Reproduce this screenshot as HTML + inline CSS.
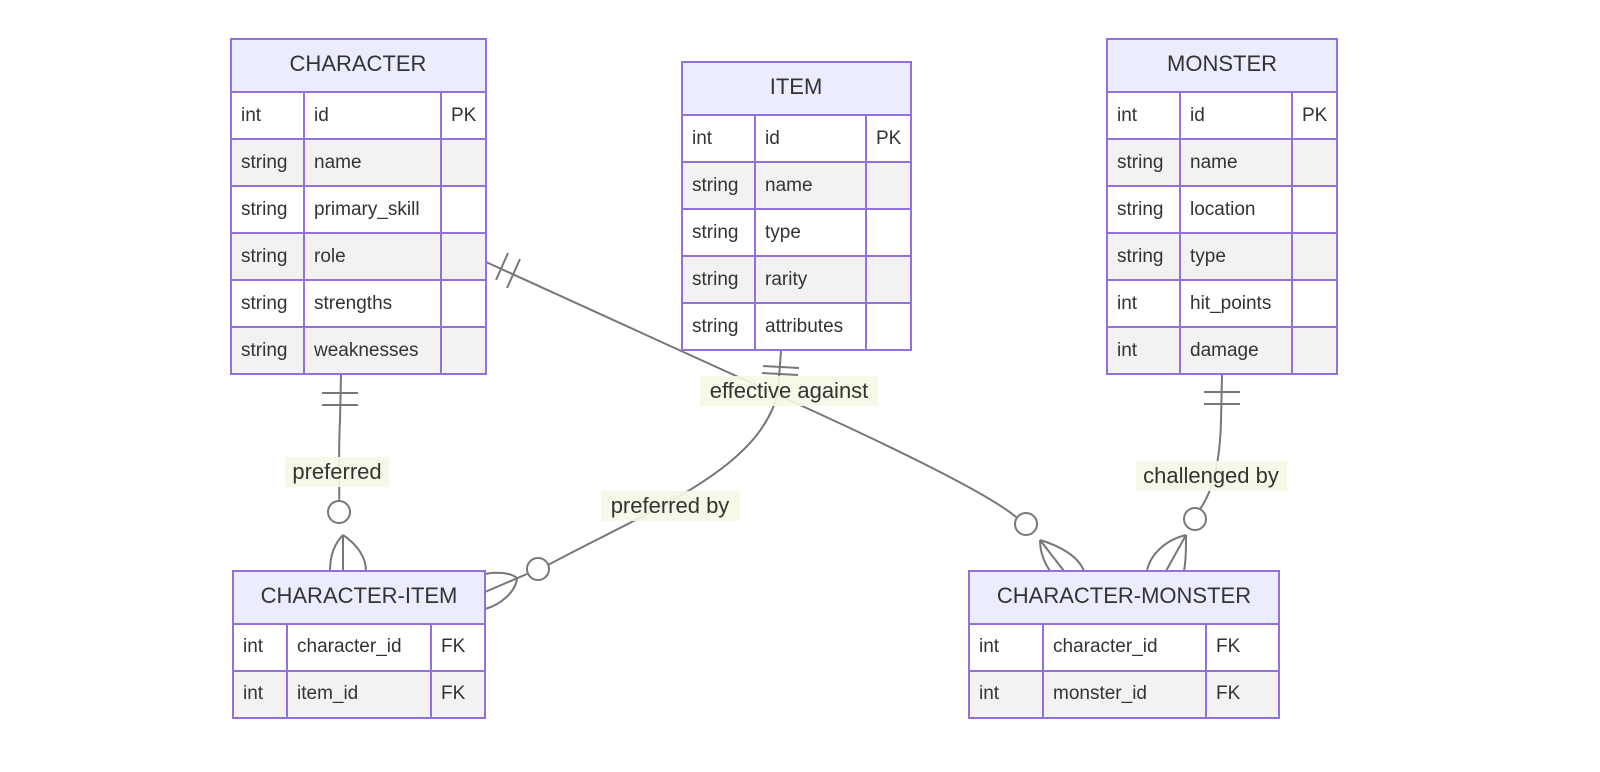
<!DOCTYPE html>
<html><head><meta charset="utf-8"><style>
html,body{margin:0;padding:0;background:#fff;}
svg{display:block;}
text{font-family:"Liberation Sans",sans-serif;fill:#333;}
.h{font-size:22px;}
.c{font-size:19px;}
.l{font-size:22px;fill:#333;}
</style></head><body>
<svg width="1600" height="772" viewBox="0 0 1600 772" xmlns="http://www.w3.org/2000/svg">
<g fill="none" stroke="#777" stroke-width="2">
<!-- edge 1 -->
<path d="M341,375 L340,420 C338,460 340,500 339,501"/>
<line x1="322" y1="393" x2="358" y2="393"/><line x1="322" y1="405" x2="358" y2="405"/>
<circle cx="339" cy="512" r="11" fill="#fff"/>
<path d="M343,535 L343,571 M343,535 C333,545 330,558 330,571 M343,535 C358,545 366,558 366,571"/>
<!-- edge 2 -->
<path d="M781,351 L778,392 C760,470 650,510 548,565"/>
<line x1="763" y1="366" x2="799" y2="368"/><line x1="762" y1="373" x2="798" y2="375"/>
<circle cx="538" cy="569" r="11" fill="#fff"/>
<path d="M527,574 L485,592 M517,578 C510,572 495,572 485,574 M517,578 C516,592 500,605 485,609"/>
<!-- edge 3 -->
<path d="M486,262 L780,396 C900,450 990,495 1016,517"/>
<line x1="496" y1="280" x2="508" y2="253"/><line x1="507" y1="288" x2="520" y2="259"/>
<circle cx="1026" cy="524" r="11" fill="#fff"/>
<path d="M1040,540 L1064,571 M1040,540 C1040,552 1044,562 1050,571 M1040,540 C1060,546 1078,556 1084,571"/>
<!-- edge 4 -->
<path d="M1222,375 L1221,420 C1220,470 1210,495 1200,509"/>
<line x1="1204" y1="392" x2="1240" y2="392"/><line x1="1204" y1="404" x2="1240" y2="404"/>
<circle cx="1195" cy="519" r="11" fill="#fff"/>
<path d="M1186,535 L1166,571 M1186,535 C1186,548 1186,560 1184,571 M1186,535 C1165,540 1150,555 1147,571"/>
</g>
<!-- labels -->
<g>
<rect x="285" y="457" width="104" height="30" fill="#f4f8e6" opacity="0.9"/>
<text class="l" x="337" y="479" text-anchor="middle">preferred</text>
<rect x="601" y="491" width="139" height="30" fill="#f4f8e6" opacity="0.9"/>
<text class="l" x="670" y="513" text-anchor="middle">preferred by</text>
<rect x="700" y="376" width="178" height="30" fill="#f4f8e6" opacity="0.9"/>
<text class="l" x="789" y="398" text-anchor="middle">effective against</text>
<rect x="1136" y="461" width="151" height="30" fill="#f4f8e6" opacity="0.9"/>
<text class="l" x="1211" y="483" text-anchor="middle">challenged by</text>
</g>
<g stroke="#9370db" stroke-width="2">
<!-- CHARACTER -->
<rect x="231" y="39" width="255" height="53" fill="#ececff"/>
<rect x="231" y="92" width="255" height="47" fill="#fff"/>
<rect x="231" y="139" width="255" height="47" fill="#f2f2f2"/>
<rect x="231" y="186" width="255" height="47" fill="#fff"/>
<rect x="231" y="233" width="255" height="47" fill="#f2f2f2"/>
<rect x="231" y="280" width="255" height="47" fill="#fff"/>
<rect x="231" y="327" width="255" height="47" fill="#f2f2f2"/>
<line x1="304" y1="92" x2="304" y2="374"/><line x1="441" y1="92" x2="441" y2="374"/>
<!-- ITEM -->
<rect x="682" y="62" width="229" height="53" fill="#ececff"/>
<rect x="682" y="115" width="229" height="47" fill="#fff"/>
<rect x="682" y="162" width="229" height="47" fill="#f2f2f2"/>
<rect x="682" y="209" width="229" height="47" fill="#fff"/>
<rect x="682" y="256" width="229" height="47" fill="#f2f2f2"/>
<rect x="682" y="303" width="229" height="47" fill="#fff"/>
<line x1="755" y1="115" x2="755" y2="350"/><line x1="866" y1="115" x2="866" y2="350"/>
<!-- MONSTER -->
<rect x="1107" y="39" width="230" height="53" fill="#ececff"/>
<rect x="1107" y="92" width="230" height="47" fill="#fff"/>
<rect x="1107" y="139" width="230" height="47" fill="#f2f2f2"/>
<rect x="1107" y="186" width="230" height="47" fill="#fff"/>
<rect x="1107" y="233" width="230" height="47" fill="#f2f2f2"/>
<rect x="1107" y="280" width="230" height="47" fill="#fff"/>
<rect x="1107" y="327" width="230" height="47" fill="#f2f2f2"/>
<line x1="1180" y1="92" x2="1180" y2="374"/><line x1="1292" y1="92" x2="1292" y2="374"/>
<!-- CHARACTER-ITEM -->
<rect x="233" y="571" width="252" height="53" fill="#ececff"/>
<rect x="233" y="624" width="252" height="47" fill="#fff"/>
<rect x="233" y="671" width="252" height="47" fill="#f2f2f2"/>
<line x1="287" y1="624" x2="287" y2="718"/><line x1="431" y1="624" x2="431" y2="718"/>
<!-- CHARACTER-MONSTER -->
<rect x="969" y="571" width="310" height="53" fill="#ececff"/>
<rect x="969" y="624" width="310" height="47" fill="#fff"/>
<rect x="969" y="671" width="310" height="47" fill="#f2f2f2"/>
<line x1="1043" y1="624" x2="1043" y2="718"/><line x1="1206" y1="624" x2="1206" y2="718"/>
</g>
<g class="c">
<text class="h" x="358" y="71" text-anchor="middle">CHARACTER</text>
<text x="241" y="121" class="c">int</text><text x="314" y="121" class="c">id</text><text x="451" y="121" class="c">PK</text>
<text x="241" y="168" class="c">string</text><text x="314" y="168" class="c">name</text>
<text x="241" y="215" class="c">string</text><text x="314" y="215" class="c">primary_skill</text>
<text x="241" y="262" class="c">string</text><text x="314" y="262" class="c">role</text>
<text x="241" y="309" class="c">string</text><text x="314" y="309" class="c">strengths</text>
<text x="241" y="356" class="c">string</text><text x="314" y="356" class="c">weaknesses</text>

<text class="h" x="796" y="94" text-anchor="middle">ITEM</text>
<text x="692" y="144" class="c">int</text><text x="765" y="144" class="c">id</text><text x="876" y="144" class="c">PK</text>
<text x="692" y="191" class="c">string</text><text x="765" y="191" class="c">name</text>
<text x="692" y="238" class="c">string</text><text x="765" y="238" class="c">type</text>
<text x="692" y="285" class="c">string</text><text x="765" y="285" class="c">rarity</text>
<text x="692" y="332" class="c">string</text><text x="765" y="332" class="c">attributes</text>

<text class="h" x="1222" y="71" text-anchor="middle">MONSTER</text>
<text x="1117" y="121" class="c">int</text><text x="1190" y="121" class="c">id</text><text x="1302" y="121" class="c">PK</text>
<text x="1117" y="168" class="c">string</text><text x="1190" y="168" class="c">name</text>
<text x="1117" y="215" class="c">string</text><text x="1190" y="215" class="c">location</text>
<text x="1117" y="262" class="c">string</text><text x="1190" y="262" class="c">type</text>
<text x="1117" y="309" class="c">int</text><text x="1190" y="309" class="c">hit_points</text>
<text x="1117" y="356" class="c">int</text><text x="1190" y="356" class="c">damage</text>

<text class="h" x="359" y="603" text-anchor="middle">CHARACTER-ITEM</text>
<text x="243" y="652" class="c">int</text><text x="297" y="652" class="c">character_id</text><text x="441" y="652" class="c">FK</text>
<text x="243" y="699" class="c">int</text><text x="297" y="699" class="c">item_id</text><text x="441" y="699" class="c">FK</text>

<text class="h" x="1124" y="603" text-anchor="middle">CHARACTER-MONSTER</text>
<text x="979" y="652" class="c">int</text><text x="1053" y="652" class="c">character_id</text><text x="1216" y="652" class="c">FK</text>
<text x="979" y="699" class="c">int</text><text x="1053" y="699" class="c">monster_id</text><text x="1216" y="699" class="c">FK</text>
</g>
</svg>
</body></html>
